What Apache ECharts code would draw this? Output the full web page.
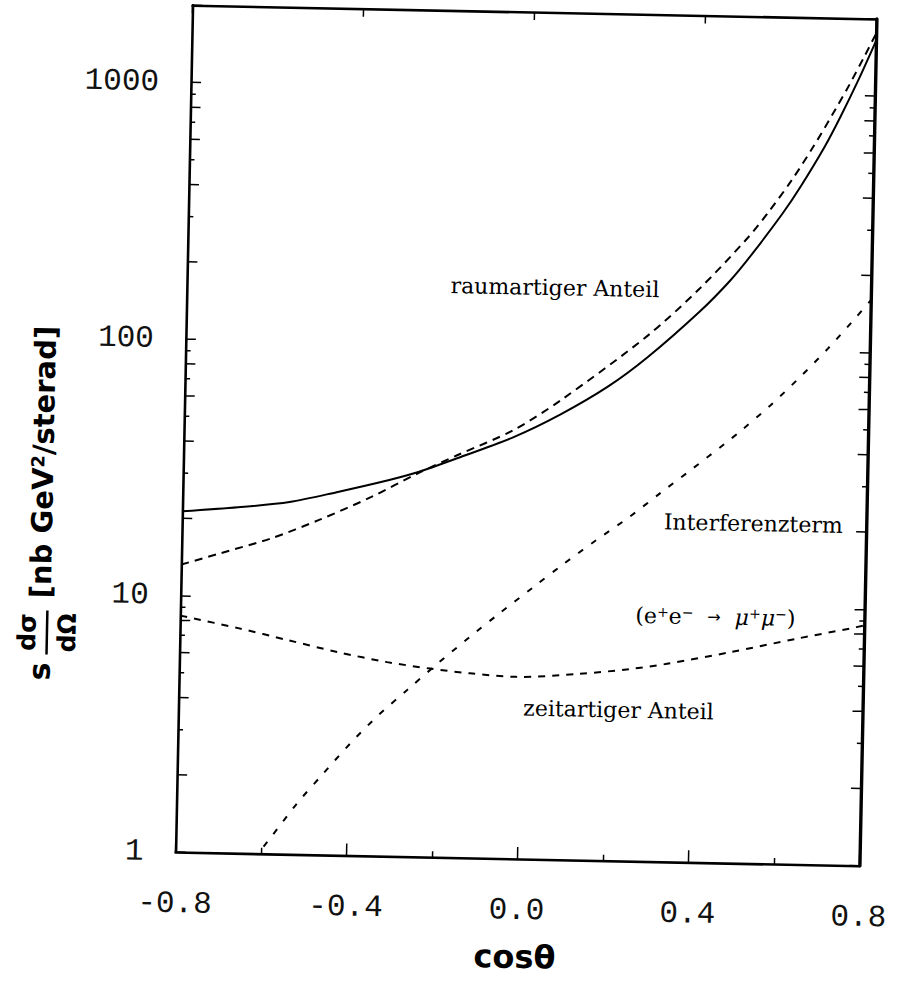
<!DOCTYPE html>
<html>
<head>
<meta charset="utf-8">
<script src="https://cdn.jsdelivr.net/npm/echarts@6/dist/echarts.min.js"></script>
<style>
  html, body { margin: 0; padding: 0; background: #fff; overflow: hidden; }
  /* the printed figure sits slightly tilted on the page */
  #chart { width: 901px; height: 985px; transform: rotate(1.15deg); transform-origin: 526px 435px; }
</style>
</head>
<body>
<div id="chart"></div>
<script>
// cos(theta) range and tick labels
const xMin = -0.8;
const xMax = 0.8;
const xTickLabels = ['-0.8', '-0.4', '0.0', '0.4', '0.8'];
const yLabelValues = [1, 10, 100, 1000];
const yMin = 1;
const yMax = 2000;

// total cross section (solid)
const totalCos = [-0.8, -0.67, -0.55, -0.44, -0.32, -0.25, -0.16, -0.03, 0.08, 0.19, 0.28, 0.40, 0.47, 0.52, 0.59, 0.63, 0.685, 0.72, 0.76, 0.8];
const totalVal = [21.3, 22.3, 23.6, 26.0, 29.2, 31.6, 36.0, 43.9, 54.4, 70.5, 92, 140, 186, 237, 344, 437, 630, 823, 1146, 1640];

// space-like part
const spaceCos = [-0.8, -0.71, -0.59, -0.48, -0.36, -0.25, -0.16, -0.03, 0.08, 0.28, 0.40, 0.51, 0.56, 0.61, 0.66, 0.71, 0.74, 0.775, 0.8];
const spaceVal = [13.2, 14.7, 17.0, 20.2, 25.0, 31.3, 37.0, 46.8, 61.8, 112, 173, 275, 353, 465, 635, 892, 1104, 1441, 1754];

// interference term
const interfCos = [-0.64, -0.578, -0.517, -0.458, -0.396, -0.332, -0.266, -0.195, -0.122, -0.053, 0.022, 0.091, 0.169, 0.245, 0.32, 0.389, 0.467, 0.503, 0.57, 0.638, 0.702, 0.763, 0.8];
const interfVal = [0.85, 1.16, 1.59, 2.08, 2.74, 3.54, 4.46, 5.71, 7.26, 9.05, 11.4, 14.1, 17.7, 21.9, 27.6, 34.0, 43.3, 48.6, 61.2, 79.3, 103, 135, 160];

// time-like part (e+e- -> mu+mu-)
const timeCos = [-0.8, -0.664, -0.547, -0.43, -0.314, -0.213, -0.12, -0.011, 0.136, 0.252, 0.337, 0.49, 0.645, 0.768, 0.8];
const timeVal = [8.35, 7.54, 6.83, 6.19, 5.71, 5.43, 5.24, 5.12, 5.32, 5.6, 5.9, 6.65, 7.6, 8.4, 8.65];

// intermediate log ticks: 2..9 within each decade
const decades = [1, 10, 100, 1000];
const tickMultipliers = [2, 3, 4, 5, 6, 7, 8, 9];

function pairs(xs, ys) { return xs.map((x, i) => [x, ys[i]]); }

const minorTickData = [];
decades.forEach(d => tickMultipliers.forEach(m => {
  const v = d * m;
  if (v < yMax) minorTickData.push([xMin, v, m % 2 === 0 ? 10 : 5]);
}));

const digitFont = { fontFamily: '"Liberation Mono", monospace', fontSize: 31, color: '#111' };
const annFont = '22px "DejaVu Serif", serif';

const chart = echarts.init(document.getElementById('chart'), null, { renderer: 'svg' });

const frameLine = { show: true, onZero: false, lineStyle: { color: '#000', width: 2.6 } };

const curveBase = { type: 'line', smooth: 0.3, showSymbol: false, clip: true };

chart.setOption({
  backgroundColor: '#fff',
  animation: false,
  grid: { left: 184, top: 12, width: 684, height: 847 },
  xAxis: [
    {
      type: 'value', position: 'bottom', min: xMin, max: xMax, interval: 0.4,
      axisLine: frameLine,
      axisTick: { show: true, inside: true, length: 12, lineStyle: { color: '#000', width: 1.5 } },
      minorTick: { show: true, splitNumber: 2, length: 6, lineStyle: { color: '#000', width: 1.5 } },
      splitLine: { show: false },
      axisLabel: Object.assign({
        margin: 36,
        formatter: v => xTickLabels[Math.round((v - xMin) / 0.4)] || ''
      }, digitFont)
    },
    {
      type: 'value', position: 'top', min: xMin, max: xMax, interval: 0.4,
      axisLine: frameLine,
      axisTick: { show: true, inside: true, length: 8, lineStyle: { color: '#000', width: 1.5 } },
      splitLine: { show: false },
      axisLabel: { show: false }
    }
  ],
  yAxis: [
    {
      type: 'log', logBase: 10, position: 'left', min: yMin, max: yMax,
      axisLine: frameLine,
      axisTick: { show: true, inside: true, length: 10, lineStyle: { color: '#000', width: 1.5 } },
      splitLine: { show: false },
      axisLabel: Object.assign({
        margin: 32,
        padding: [0, 0, 28, 0],
        formatter: v => {
          const r = Math.round(v);
          return (yLabelValues.indexOf(r) >= 0 && Math.abs(v - r) < 1e-6) ? String(r) : '';
        }
      }, digitFont)
    },
    {
      type: 'log', logBase: 10, position: 'right', min: yMin, max: yMax,
      axisLine: { show: true, onZero: false, lineStyle: { color: '#000', width: 3.4 } },
      axisTick: { show: true, inside: true, length: 10, lineStyle: { color: '#000', width: 1.5 } },
      splitLine: { show: false },
      axisLabel: { show: false }
    }
  ],
  series: [
    Object.assign({ name: 'gesamt', data: pairs(totalCos, totalVal),
      lineStyle: { color: '#000', width: 2 } }, curveBase),
    Object.assign({ name: 'raumartiger Anteil', data: pairs(spaceCos, spaceVal),
      lineStyle: { color: '#000', width: 2, type: [8, 6] } }, curveBase),
    Object.assign({ name: 'Interferenzterm', data: pairs(interfCos, interfVal),
      lineStyle: { color: '#000', width: 2, type: [6, 10] } }, curveBase),
    Object.assign({ name: 'zeitartiger Anteil', data: pairs(timeCos, timeVal),
      lineStyle: { color: '#000', width: 2, type: [7, 7] } }, curveBase),
    {
      name: 'log ticks', type: 'custom', silent: true, z: 5,
      data: minorTickData,
      renderItem: function (params, api) {
        const v = api.value(1), len = api.value(2);
        const l = api.coord([xMin, v]);
        const r = api.coord([xMax, v]);
        return {
          type: 'group',
          children: [
            { type: 'line', shape: { x1: l[0], y1: l[1], x2: l[0] + len, y2: l[1] }, style: { stroke: '#000', lineWidth: 1.5 } },
            { type: 'line', shape: { x1: r[0] - len, y1: r[1], x2: r[0], y2: r[1] }, style: { stroke: '#000', lineWidth: 1.5 } }
          ]
        };
      }
    }
  ],
  graphic: [
    // y axis title: s dσ/dΩ [nb GeV²/sterad], reading bottom to top
    {
      type: 'group', x: 44, y: 693, rotation: Math.PI / 2, silent: true,
      children: [
        { type: 'text', x: 3, y: 0, style: { text: 's', font: 'bold 30px "DejaVu Sans"', fill: '#000', align: 'left', verticalAlign: 'middle', textAlign: 'left', textVerticalAlign: 'middle' } },
        { type: 'text', x: 51, y: -13, style: { text: 'dσ', font: 'bold 25px "DejaVu Sans"', fill: '#000', align: 'center', verticalAlign: 'middle', textAlign: 'center', textVerticalAlign: 'middle' } },
        { type: 'line', shape: { x1: 29, y1: 7, x2: 73, y2: 7 }, style: { stroke: '#000', lineWidth: 2.5 } },
        { type: 'text', x: 51, y: 27, style: { text: 'dΩ', font: 'bold 25px "DejaVu Sans"', fill: '#000', align: 'center', verticalAlign: 'middle', textAlign: 'center', textVerticalAlign: 'middle' } },
        {
          type: 'text', x: 85, y: 0,
          style: {
            text: '[nb GeV{sup|2}/sterad]',
            font: 'bold 29px "DejaVu Sans"', fill: '#000',
            align: 'left', verticalAlign: 'middle', textAlign: 'left', textVerticalAlign: 'middle',
            rich: { sup: { fontSize: 18, fontWeight: 'bold', fontFamily: 'DejaVu Sans', verticalAlign: 'top', fill: '#000' } }
          }
        }
      ]
    },
    // x axis title
    { type: 'text', x: 525, y: 957, silent: true, style: { text: 'cosθ', font: 'bold 32px "DejaVu Sans"', fill: '#000', align: 'center', verticalAlign: 'middle', textAlign: 'center', textVerticalAlign: 'middle' } },
    // curve annotations
    { type: 'text', x: 552, y: 287, silent: true, style: { text: 'raumartiger Anteil', font: annFont, fill: '#000', align: 'center', verticalAlign: 'middle', textAlign: 'center', textVerticalAlign: 'middle' } },
    { type: 'text', x: 755, y: 519, silent: true, style: { text: 'Interferenzterm', font: annFont, fill: '#000', align: 'center', verticalAlign: 'middle', textAlign: 'center', textVerticalAlign: 'middle' } },
    {
      type: 'text', x: 719, y: 613, silent: true,
      style: {
        text: '(e{sp|+}e{sp|−}  {ar|→}  {mu|μ}{sp|+}{mu|μ}{sp|−})',
        font: annFont, fill: '#000',
        align: 'center', verticalAlign: 'middle', textAlign: 'center', textVerticalAlign: 'middle',
        rich: {
          sp: { fontSize: 14, fontFamily: 'DejaVu Serif', verticalAlign: 'top', fill: '#000' },
          mu: { fontSize: 22, fontFamily: 'DejaVu Serif', fontStyle: 'italic', fill: '#000' },
          ar: { fontSize: 16, fontFamily: 'DejaVu Sans', fill: '#000' }
        }
      }
    },
    { type: 'text', x: 624, y: 708, silent: true, style: { text: 'zeitartiger Anteil', font: annFont, fill: '#000', align: 'center', verticalAlign: 'middle', textAlign: 'center', textVerticalAlign: 'middle' } }
  ]
});
</script>
</body>
</html>
